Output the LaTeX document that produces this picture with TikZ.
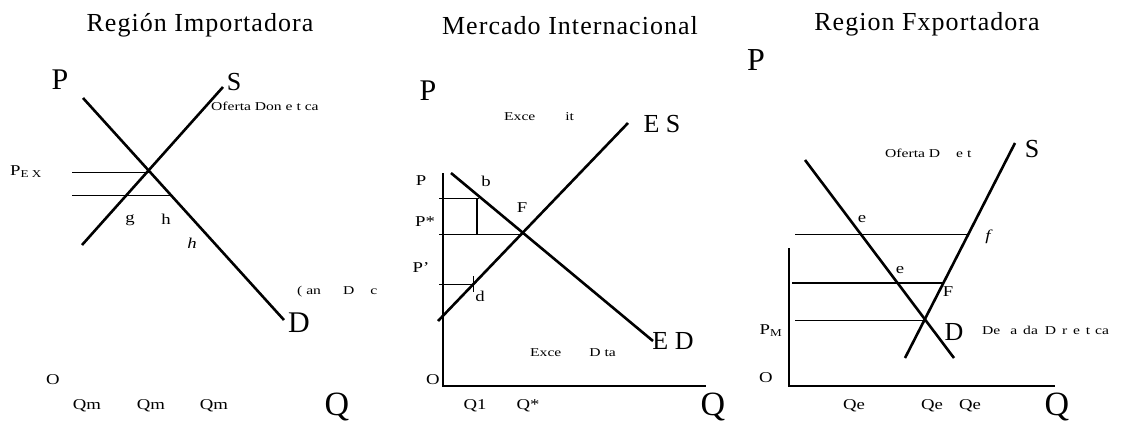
\documentclass[tikz,border=0pt]{standalone}
\usepackage{fontspec}
\setmainfont{Liberation Serif}
\usetikzlibrary{positioning}

\begin{document}
\begin{tikzpicture}[x=1pt, y=-1pt,
      curve/.style={line width=2.6pt},
      guide/.style={line width=0.9pt},
      axis/.style={line width=1.2pt},
      ttl/.style={font=\fontsize{26}{30}\selectfont\addfontfeature{LetterSpace=4}},
      big/.style={font=\fontsize{30}{34}\selectfont, inner sep=0pt},
      mid/.style={font=\fontsize{26}{30}\selectfont, inner sep=0pt},
      lab/.style={font=\fontsize{15}{17}\selectfont\addfontfeature{FakeStretch=1.25}, inner sep=0pt},
      note/.style={font=\fontsize{12}{14}\selectfont\addfontfeature{FakeStretch=1.3}, inner sep=0pt, anchor=west}]
    \useasboundingbox (0,0) rectangle (1128,426);

    % --- importing region
    \node[ttl] (T-imp) at (200,25) {Región Importadora};
    \coordinate (Dimp-a) at (83,98);   \coordinate (Dimp-b) at (284,320);
    \coordinate (Simp-a) at (82,245);  \coordinate (Simp-b) at (223,87);
    \coordinate (Eimp) at (150,172);   \coordinate (Himp) at (171,195);
    \coordinate (Ximp-a) at (72,172);  \coordinate (Ximp-b) at (72,195);
    \draw[curve] (Dimp-a) -- (Dimp-b);
    \draw[curve] (Simp-a) -- (Simp-b);
    \draw[guide] (Ximp-a) -- (Eimp);
    \draw[guide] (Ximp-b) -- (Himp);
    \node[big] (P-imp) at (60,80) {P};
    \node[mid] (S-imp) at (234,82) {S};
    \node[big] (D-imp) at (299,323) {D};
    \node[big, font=\fontsize{34}{38}\selectfont] (Q-imp) at (337,407) {Q};
    \node[note] (oferta-imp) at (211,106) {Oferta Don e t ca};
    \node[note] (demanda-imp) at (297,292) {( an\hspace{22pt}D\hspace{16pt}c};
    \node[lab] (pex) at (26,172) {P\textsubscript{E X}};
    \node[lab] (g-imp) at (130,220) {g};
    \node[lab] (h-imp) at (166,219) {h};
    \node[lab] (hh-imp) at (192,243) {\textit{h}};
    \node[lab] (O-imp) at (53,380) {O};

    % --- international market
    \node[ttl] (T-int) at (570,26) {Mercado Internacional};
    \coordinate (Dint-a) at (451,173); \coordinate (Dint-b) at (653,341);
    \coordinate (Sint-a) at (438,321); \coordinate (Sint-b) at (628,123);
    \coordinate (F) at (522,234);
    \coordinate (O-ax) at (443,386);   \coordinate (top-ax) at (443,173);
    \coordinate (end-ax) at (706,386);
    \coordinate (pa-a) at (439,198);   \coordinate (pa-b) at (479,198);
    \coordinate (pb-a) at (439,234);   \coordinate (pb-c) at (477,198);
    \coordinate (pb-d) at (477,234);
    \coordinate (pc-a) at (439,284);   \coordinate (pc-b) at (473,284);
    \coordinate (tk-a) at (473,276);   \coordinate (tk-b) at (473,292);
    \draw[axis] (top-ax) -- (O-ax) -- (end-ax);
    \draw[curve] (Dint-a) -- (Dint-b);
    \draw[curve] (Sint-a) -- (Sint-b);
    \draw[guide] (pa-a) -- (pa-b);
    \draw[guide, line width=1.4pt] (pb-c) -- (pb-d);
    \draw[guide] (pb-a) -- (F);
    \draw[guide] (pc-a) -- (pc-b);
    \draw[guide] (tk-a) -- (tk-b);
    \node[big] (P-int) at (428,91) {P};
    \node[mid] (ES) at (662,124) {E S};
    \node[mid] (ED) at (673,341) {E D};
    \node[big, font=\fontsize{34}{38}\selectfont] (Q-int) at (713,407) {Q};
    \node[note] (exs) at (504,117) {Exce\hspace{30pt}it};
    \node[note] (exd) at (530,353) {Exce\hspace{28pt}D ta};
    \node[lab] (p-top) at (421,181) {P};
    \node[lab] (p-star) at (425,222) {P*};
    \node[lab] (p-low) at (421,268) {P'};
    \node[lab] (b) at (486,181) {b};
    \node[lab] (F-lab) at (522,208) {F};
    \node[lab] (d) at (480,296) {d};
    \node[lab] (O-int) at (433,380) {O};
    \node[lab] (q1) at (475,406) {Q1};
    \node[lab] (q-star) at (528,406) {Q*};

    % --- exporting region
    \node[ttl] (T-exp) at (927,24) {Region Fxportadora};
    \coordinate (Dexp-a) at (805,160); \coordinate (Dexp-b) at (954,358);
    \coordinate (Sexp-a) at (905,358); \coordinate (Sexp-b) at (1015,143);
    \coordinate (Eexp) at (926,320);
    \coordinate (Oexp-ax) at (789,386); \coordinate (topexp-ax) at (789,248);
    \coordinate (endexp-ax) at (1055,386);
    \coordinate (ea-a) at (795,234);   \coordinate (ea-b) at (968,234);
    \coordinate (eb-a) at (792,283);   \coordinate (eb-b) at (943,283);
    \coordinate (ec-a) at (795,320);
    \draw[axis] (topexp-ax) -- (Oexp-ax) -- (endexp-ax);
    \draw[curve] (Dexp-a) -- (Dexp-b);
    \draw[curve] (Sexp-a) -- (Sexp-b);
    \draw[guide] (ea-a) -- (ea-b);
    \draw[guide, line width=1.3pt] (eb-a) -- (eb-b);
    \draw[guide] (ec-a) -- (Eexp);
    \node[big, font=\fontsize{32}{36}\selectfont] (P-exp) at (756,60) {P};
    \node[mid] (S-exp) at (1032,149) {S};
    \node[mid] (D-exp) at (954,332) {D};
    \node[big, font=\fontsize{34}{38}\selectfont] (Q-exp) at (1057,407) {Q};
    \node[note] (oferta-exp) at (885,153) {Oferta D\hspace{16pt}e t};
    \node[note] (demanda-exp) at (982,330) {De\hspace{10pt}a\hspace{2pt} da\hspace{3pt} D\hspace{2pt} r\hspace{2pt} e\hspace{2pt} t\hspace{1pt} ca};
    \node[lab] (e-top) at (862,219) {e};
    \node[lab] (e-low) at (900,270) {e};
    \node[lab] (f) at (989,237) {\textit{f}};
    \node[lab] (F-exp) at (948,292) {F};
    \node[lab] (pm) at (771,331) {P\textsubscript{M}};
    \node[lab] (O-exp) at (766,378) {O};

    % quantity labels
    \foreach \qx/\qlab/\qid in {87/Qm/m1, 151/Qm/m2, 214/Qm/m3,
                                854/Qe/e1, 932/Qe/e2, 970/Qe/e3} {
      \node[lab] (Q-\qid) at (\qx,406) {\qlab};
    }
  \end{tikzpicture}
\end{document}
